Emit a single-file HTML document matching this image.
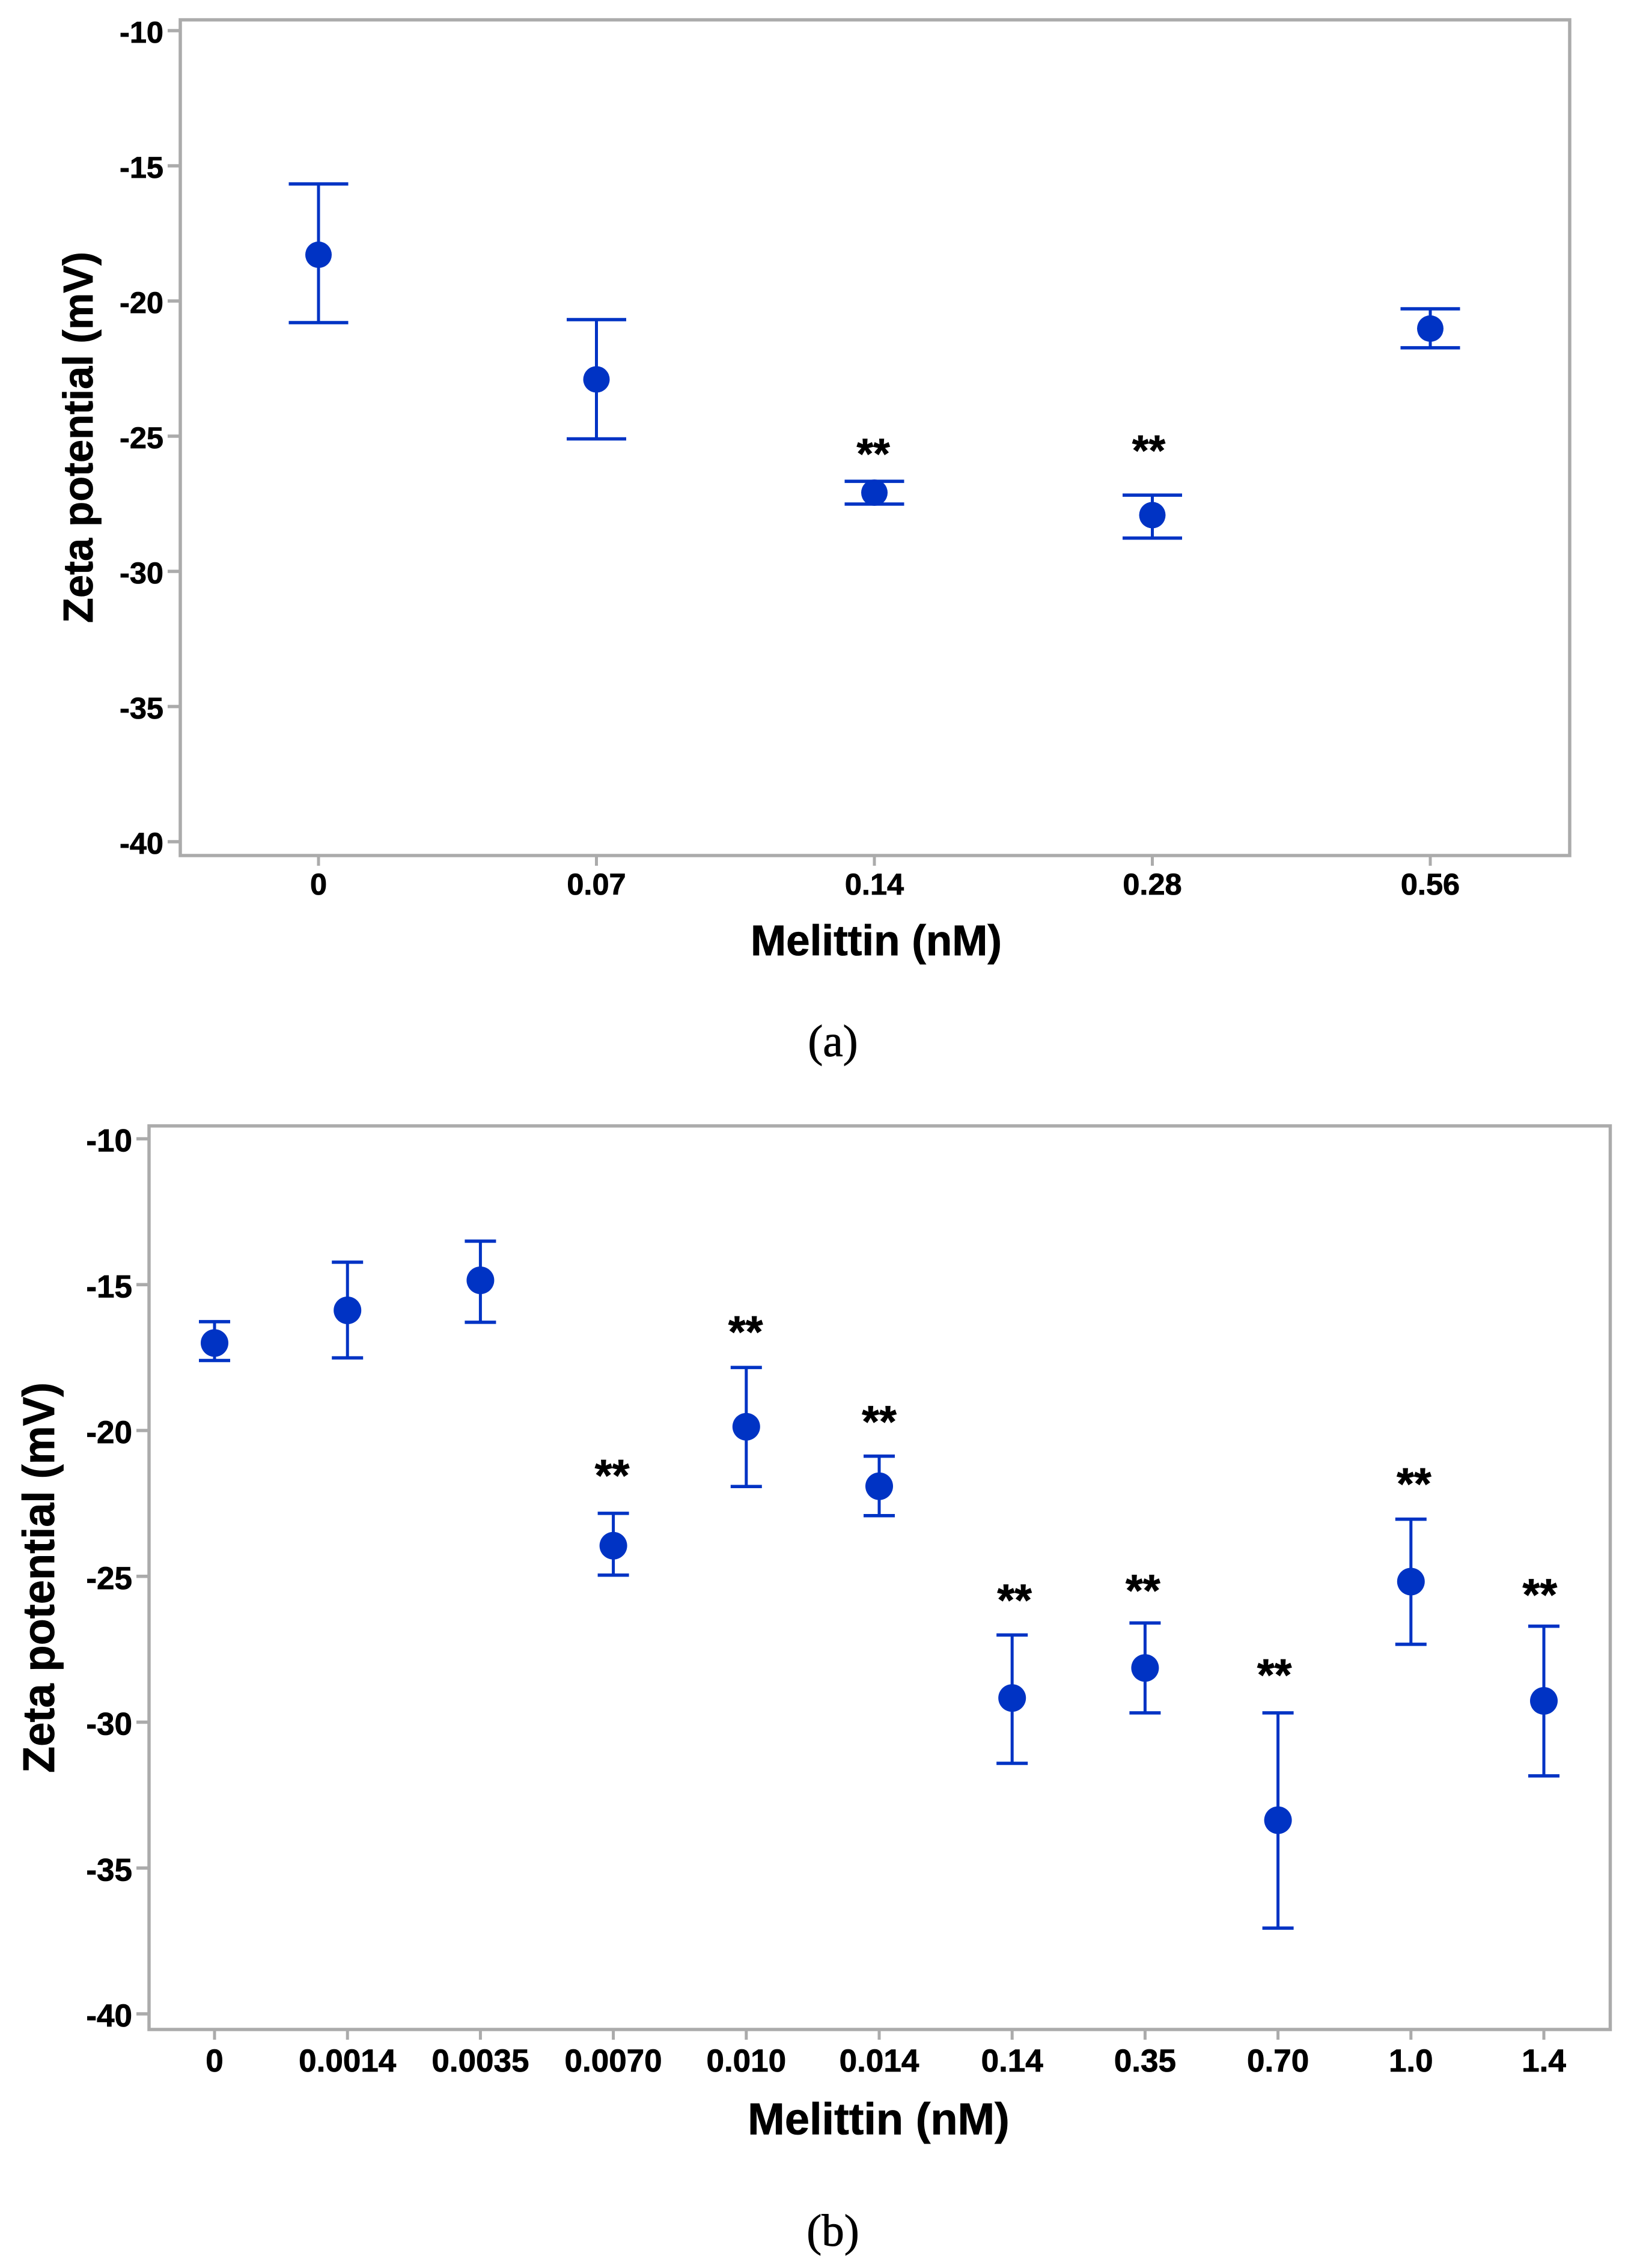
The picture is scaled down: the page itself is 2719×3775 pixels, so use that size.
<!DOCTYPE html>
<html lang="en">
<head>
<meta charset="utf-8">
<title>Zeta potential vs Melittin concentration</title>
<style>
  html, body { margin: 0; padding: 0; background: #fff; }
  body { width: 2719px; height: 3775px; overflow: hidden; }
  svg { display: block; }
  text { font-family: "Liberation Sans", Arial, sans-serif; fill: #000; stroke: #000; stroke-width: 0.8px; }
  .bold { font-weight: bold; }
  .caption { font-family: "Liberation Serif", "Times New Roman", serif; font-weight: normal; stroke-width: 0.9px; }
</style>
</head>
<body>
<svg id="figure" xmlns="http://www.w3.org/2000/svg" width="2719" height="3775" viewBox="0 0 2719 3775">
  <rect x="0" y="0" width="2719" height="3775" fill="#ffffff"/>
  <g id="panel-a">
    <text class="bold" font-size="70" textLength="618" lengthAdjust="spacingAndGlyphs" transform="translate(154,1037) rotate(-90)">Zeta potential (mV)</text>
    <text class="bold" font-size="71" text-anchor="middle" x="1458" y="1590">Melittin (nM)</text>
    <text class="caption" font-size="75" text-anchor="middle" x="1386" y="1758">(a)</text>
  </g>
  <g id="panel-b">
    <text class="bold" font-size="74" textLength="650" lengthAdjust="spacingAndGlyphs" transform="translate(90,2951) rotate(-90)">Zeta potential (mV)</text>
    <text class="bold" font-size="74" text-anchor="middle" x="1462" y="3552.6">Melittin (nM)</text>
    <text class="caption" font-size="75" text-anchor="middle" x="1386" y="3738">(b)</text>
  </g>
</svg>
<script>
// Shared y-axis ticks (mV)
var yTicks = [-10, -15, -20, -25, -30, -35, -40];

// Panel (a) data
var categoriesA = ['0', '0.07', '0.14', '0.28', '0.56'];
var meanA  = [-18.29, -22.90, -27.09, -27.92, -21.02];
var upperA = [-15.67, -20.69, -26.67, -27.18, -20.29];
var lowerA = [-20.80, -25.10, -27.51, -28.77, -21.73];
// Height of the "**" marker above the upper cap, in mV (null = no marker)
var starGapA = [null, null, 1.22, 1.85, null];
// Sideways nudge of the "**" marker, in fractions of a category
var starNudgeA = [0, 0, -0.004, -0.013, 0];

// Panel (b) data
var categoriesB = ['0', '0.0014', '0.0035', '0.0070', '0.010', '0.014', '0.14', '0.35', '0.70', '1.0', '1.4'];
var meanB  = [-17.00, -15.88, -14.85, -23.95, -19.87, -21.91, -29.17, -28.14, -33.36, -25.18, -29.27];
var upperB = [-16.27, -14.23, -13.51, -22.84, -17.84, -20.88, -27.01, -26.60, -29.68, -23.04, -26.71];
var lowerB = [-17.60, -17.51, -16.29, -24.96, -21.92, -22.92, -31.41, -29.68, -37.06, -27.33, -31.84];
var starGapB = [null, null, null, 1.50, 1.42, 1.38, 1.39, 1.31, 1.50, 1.41, 1.28];
var starNudgeB = [0, 0, 0, -0.009, -0.005, 0, 0.018, -0.016, -0.027, 0.023, -0.03];

var SVG_NS = 'http://www.w3.org/2000/svg';
var BLUE = '#0033c4';
var GREY = '#ababab';

function make(tag, attrs, parent) {
  var el = document.createElementNS(SVG_NS, tag);
  for (var k in attrs) { el.setAttribute(k, attrs[k]); }
  parent.appendChild(el);
  return el;
}

function drawChart(parent, cfg, categories, mean, upper, lower, starGap, starNudge) {
  function xScale(i) { return cfg.x0 + cfg.xStep * i; }
  function yScale(v) { return cfg.y0 + (cfg.yZero - v) * cfg.yUnit; }

  var frame = make('rect', { x: cfg.left, y: cfg.top, width: cfg.right - cfg.left, height: cfg.bottom - cfg.top, fill: 'none', stroke: GREY, 'stroke-width': 5.5 }, parent);
  
  

  yTicks.forEach(function (t) {
    var y = yScale(t);
    var tick = make('line', { x1: cfg.left - 21, x2: cfg.left, y1: y, y2: y, stroke: GREY, 'stroke-width': 5.5 }, parent);
    
    
    var label = make('text', { x: cfg.left - 28, y: y + cfg.labelFont * 0.40, 'text-anchor': 'end', 'font-size': cfg.labelFont, 'font-weight': 'bold' }, parent);
    label.textContent = String(t);
    
    
  });

  categories.forEach(function (c, i) {
    var x = xScale(i);
    var tick = make('line', { x1: x, x2: x, y1: cfg.bottom, y2: cfg.bottom + 17, stroke: GREY, 'stroke-width': 5 }, parent);
    
    
    var label = make('text', { x: x, y: cfg.xLabelY, 'text-anchor': 'middle', 'font-size': cfg.labelFont, 'font-weight': 'bold' }, parent);
    label.textContent = c;
    
    

    var yHi = yScale(upper[i]);
    var yLo = yScale(lower[i]);
    var yMean = yScale(mean[i]);

    var stem = make('line', { x1: x, x2: x, y1: yHi, y2: yLo, stroke: BLUE, 'stroke-width': 5 }, parent);
    
    

    var capHi = make('line', { x1: x - cfg.capHalf, x2: x + cfg.capHalf, y1: yHi, y2: yHi, stroke: BLUE, 'stroke-width': 5.5 }, parent);
    
    

    var capLo = make('line', { x1: x - cfg.capHalf, x2: x + cfg.capHalf, y1: yLo, y2: yLo, stroke: BLUE, 'stroke-width': 5.5 }, parent);
    
    

    var dot = make('circle', { cx: x, cy: yMean, r: cfg.radius, fill: BLUE }, parent);
    
    

    if (starGap[i] !== null) {
      var starCenter = yScale(upper[i] + starGap[i]);
      var star = make('text', { x: xScale(i + starNudge[i]), y: starCenter + cfg.starFont * 0.47, 'text-anchor': 'middle', 'font-size': cfg.starFont, 'font-weight': 'bold' }, parent);
      star.textContent = '**';
      
      
    }
  });
}

drawChart(document.getElementById('panel-a'),
  { left: 300, right: 2612, top: 33, bottom: 1424, x0: 530, xStep: 462.5, y0: 51, yZero: -10, yUnit: 45,
    labelFont: 50.5, starFont: 71, xLabelY: 1489, capHalf: 49.5, radius: 22 },
  categoriesA, meanA, upperA, lowerA, starGapA, starNudgeA);

drawChart(document.getElementById('panel-b'),
  { left: 248, right: 2679.5, top: 1874, bottom: 3378, x0: 357, xStep: 221.2, y0: 1895.5, yZero: -10, yUnit: 48.55,
    labelFont: 53, starFont: 74, xLabelY: 3448, capHalf: 26, radius: 23 },
  categoriesB, meanB, upperB, lowerB, starGapB, starNudgeB);
</script>
</body>
</html>
